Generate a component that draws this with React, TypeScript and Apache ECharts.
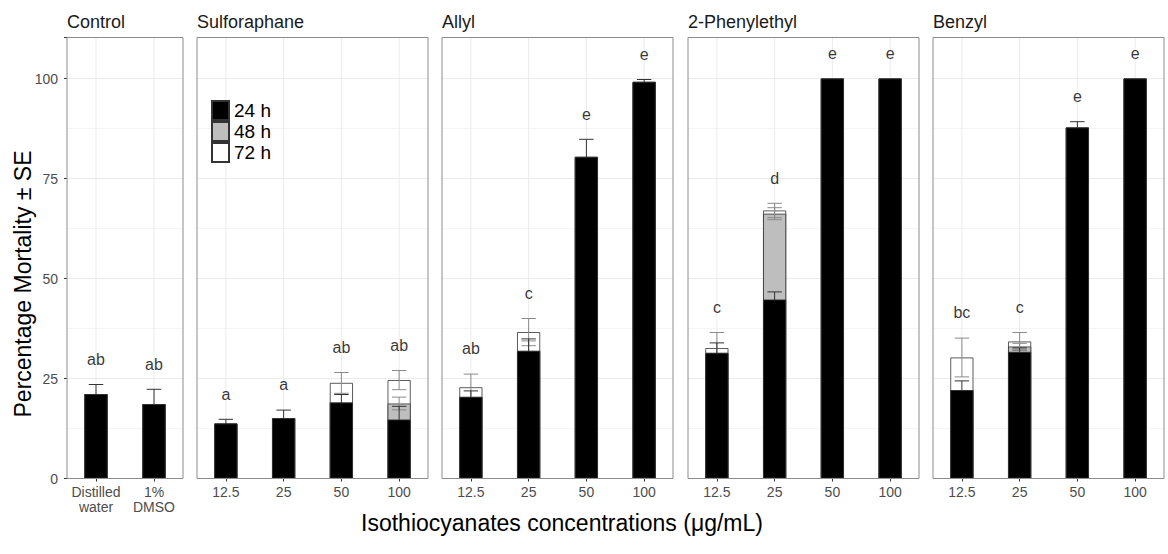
import React, { useEffect, useRef } from 'react';
import * as echarts from 'echarts';

// ---- data ----
const panels = ['Control', 'Sulforaphane', 'Allyl', '2-Phenylethyl', 'Benzyl'];
const controlCategories = ['Distilled\nwater', '1%\nDMSO'];
const concentrations = ['12.5', '25', '50', '100'];
const legendNames = ['24 h', '48 h', '72 h'];
const yTicks = [0, 25, 50, 75, 100];

// cumulative % mortality by exposure time (one row per panel)
const mean24 = [
  [21.1, 18.6],
  [13.75, 15.1, 19.0, 14.75],
  [20.4, 31.9, 80.4, 99.15],
  [31.4, 44.75, 100, 100],
  [22.1, 31.65, 87.75, 100],
];
const se24 = [
  [2.4, 3.7],
  [1.05, 2.0, 2.0, 3.3],
  [1.5, 3.0, 4.4, 0.6],
  [2.5, 1.9, 0, 0],
  [2.3, 1.0, 1.45, 0],
];
const mean48 = [
  [21.1, 18.6],
  [13.75, 15.1, 19.0, 18.75],
  [20.4, 31.9, 80.4, 99.15],
  [31.4, 66.2, 100, 100],
  [22.1, 33.0, 87.75, 100],
];
const se48 = [
  [0, 0],
  [0, 0, 0, 1.6],
  [0, 2.5, 0, 0],
  [0, 1.5, 0, 0],
  [0, 0.8, 0, 0],
];
const mean72 = [
  [21.1, 18.6],
  [13.75, 15.1, 23.9, 24.6],
  [22.8, 36.6, 80.4, 99.15],
  [32.6, 67.0, 100, 100],
  [30.25, 34.25, 87.75, 100],
];
const se72 = [
  [0, 0],
  [0, 0, 2.6, 2.4],
  [3.3, 3.4, 0, 0],
  [3.9, 1.8, 0, 0],
  [4.85, 2.25, 0, 0],
];
const letters = [
  ['ab', 'ab'],
  ['a', 'a', 'ab', 'ab'],
  ['ab', 'c', 'e', 'e'],
  ['c', 'd', 'e', 'e'],
  ['bc', 'c', 'e', 'e'],
];

// ---- layout ----
const FONT = "'Liberation Sans', Arial, Helvetica, sans-serif";
const gridLefts = [67, 197, 442, 688, 933];
const gridWidths = [116, 231, 231, 231, 231];
const TOP = 37.5;
const HEIGHT = 441;
const YMAX = 110.25;
const LETTER_OFFSET = 6.3;

function errorSeries(i: number, means: number[], ses: number[], color: string, z: number) {
  return {
    type: 'custom',
    xAxisIndex: i,
    yAxisIndex: i,
    z,
    silent: true,
    data: means.map((m, k) => [k, m, ses[k]]),
    encode: { x: 0, y: 1 },
    renderItem: (params: any, api: any) => {
      const se = api.value(2);
      if (!se || se <= 0) return null;
      const k = api.value(0);
      const m = api.value(1);
      const top = api.coord([k, m + se]);
      const bot = api.coord([k, m - se]);
      const half = api.size([1, 0])[0] * 0.125;
      const st = { stroke: color, lineWidth: 1 };
      return {
        type: 'group',
        children: [
          { type: 'line', shape: { x1: top[0], y1: top[1], x2: bot[0], y2: bot[1] }, style: st },
          { type: 'line', shape: { x1: top[0] - half, y1: top[1], x2: top[0] + half, y2: top[1] }, style: st },
          { type: 'line', shape: { x1: bot[0] - half, y1: bot[1], x2: bot[0] + half, y2: bot[1] }, style: st },
        ],
      };
    },
  };
}

function buildOption() {
  const grids: any[] = [];
  const xAxes: any[] = [];
  const yAxes: any[] = [];
  const series: any[] = [];
  const graphics: any[] = [];

  panels.forEach((p, i) => {
    const cats = i === 0 ? controlCategories : concentrations;
    grids.push({
      left: gridLefts[i],
      top: TOP,
      width: gridWidths[i],
      height: HEIGHT,
      show: true,
      z: 10,
      borderColor: '#8c8c8c',
      borderWidth: 1,
      backgroundColor: 'transparent',
    });
    xAxes.push({
      type: 'category',
      gridIndex: i,
      data: cats,
      axisLine: { show: false },
      axisTick: { show: true, alignWithLabel: true, length: 3, lineStyle: { color: '#333' } },
      axisLabel: { interval: 0, fontSize: 14, color: '#4d4d4d', margin: 6, lineHeight: 15, fontFamily: FONT },
      splitLine: { show: false },
    });
    yAxes.push({
      type: 'value',
      gridIndex: i,
      position: 'left',
      min: 0,
      max: YMAX,
      interval: 12.5,
      axisLabel: { show: false },
      axisTick: { show: false },
      axisLine: { show: false },
      splitLine: { show: true, lineStyle: { color: ['#ebebeb', '#f5f5f5'], width: 1 } },
    });

    // vertical grid lines at category centres
    series.push({
      type: 'custom',
      xAxisIndex: i,
      yAxisIndex: i,
      z: 1,
      silent: true,
      data: cats.map((_, k) => [k, 0]),
      encode: { x: 0, y: 1 },
      renderItem: (params: any, api: any) => {
        const c = api.coord([api.value(0), 0]);
        const cs = params.coordSys;
        return {
          type: 'line',
          shape: { x1: c[0], y1: cs.y, x2: c[0], y2: cs.y + cs.height },
          style: { stroke: '#ebebeb', lineWidth: 1 },
        };
      },
    });

    const barCommon = { type: 'bar', xAxisIndex: i, yAxisIndex: i, barWidth: '40%', barGap: '-100%' };
    series.push({
      ...barCommon,
      name: '72 h',
      z: 2,
      data: mean72[i],
      itemStyle: { color: '#ffffff', borderColor: '#333333', borderWidth: 0.8 },
    });
    series.push({
      ...barCommon,
      name: '48 h',
      z: 3,
      data: mean48[i],
      itemStyle: { color: '#bebebe', borderColor: '#333333', borderWidth: 0.8 },
    });
    series.push(errorSeries(i, mean72[i], se72[i], '#8a8a8a', 4));
    series.push(errorSeries(i, mean48[i], se48[i], '#8a8a8a', 4));
    series.push(errorSeries(i, mean24[i], se24[i], '#333333', 4));
    series.push({
      ...barCommon,
      name: '24 h',
      z: 5,
      data: mean24[i],
      itemStyle: { color: '#000000', borderColor: '#333333', borderWidth: 0.8 },
    });

    // significance letters
    series.push({
      type: 'scatter',
      xAxisIndex: i,
      yAxisIndex: i,
      z: 6,
      silent: true,
      symbolSize: 1,
      itemStyle: { color: 'rgba(0,0,0,0)' },
      data: cats.map((_, k) => {
        const top = Math.max(
          mean24[i][k] + se24[i][k],
          mean48[i][k] + se48[i][k],
          mean72[i][k] + se72[i][k]
        );
        return [k, top + LETTER_OFFSET];
      }),
      label: {
        show: true,
        position: 'inside',
        formatter: (prm: any) => letters[i][prm.dataIndex],
        fontSize: 16,
        color: '#000000',
        fontFamily: FONT,
      },
    });

    graphics.push({
      type: 'text',
      x: gridLefts[i],
      y: 22,
      style: {
        text: p,
        fontSize: 18,
        fill: '#1a1a1a',
        fontFamily: FONT,
        textAlign: 'left',
        textVerticalAlign: 'middle',
      },
    });
  });

  // label/tick axis for first panel
  yAxes.push({
    type: 'value',
    gridIndex: 0,
    position: 'left',
    min: 0,
    max: YMAX,
    interval: 25,
    axisLabel: {
      formatter: (v: number) => (yTicks.indexOf(v) >= 0 ? String(v) : ''),
      fontSize: 14,
      color: '#4d4d4d',
      margin: 9,
      fontFamily: FONT,
    },
    axisTick: { show: true, length: 3, lineStyle: { color: '#333' } },
    axisLine: { show: false },
    splitLine: { show: false },
  });

  graphics.push({
    type: 'text',
    x: 562,
    y: 523,
    style: {
      text: 'Isothiocyanates concentrations (μg/mL)',
      fontSize: 23,
      fill: '#000',
      fontFamily: FONT,
      textAlign: 'center',
      textVerticalAlign: 'middle',
    },
  });
  graphics.push({
    type: 'text',
    x: 23,
    y: 284,
    rotation: Math.PI / 2,
    style: {
      text: 'Percentage Mortality ± SE',
      fontSize: 23,
      fill: '#000',
      fontFamily: FONT,
      textAlign: 'center',
      textVerticalAlign: 'middle',
    },
  });

  return {
    animation: false,
    backgroundColor: '#ffffff',
    grid: grids,
    xAxis: xAxes,
    yAxis: yAxes,
    series,
    graphic: graphics,
    legend: {
      data: legendNames,
      orient: 'vertical',
      left: 211,
      top: 100,
      itemWidth: 17,
      itemHeight: 19,
      itemGap: 0,
      padding: 0,
      icon: 'rect',
      selectedMode: false,
      textStyle: { fontSize: 19, color: '#000', fontFamily: FONT, lineHeight: 19 },
    },
  };
}

export default function App() {
  const ref = useRef<HTMLDivElement>(null);
  useEffect(() => {
    if (!ref.current) return;
    const chart = echarts.init(ref.current, undefined, { renderer: 'svg' });
    chart.setOption(buildOption() as any);
    return () => chart.dispose();
  }, []);
  return (
    <div
      ref={ref}
      style={{ position: 'absolute', left: 0, top: 0, width: 1168, height: 554, background: '#fff' }}
    />
  );
}
